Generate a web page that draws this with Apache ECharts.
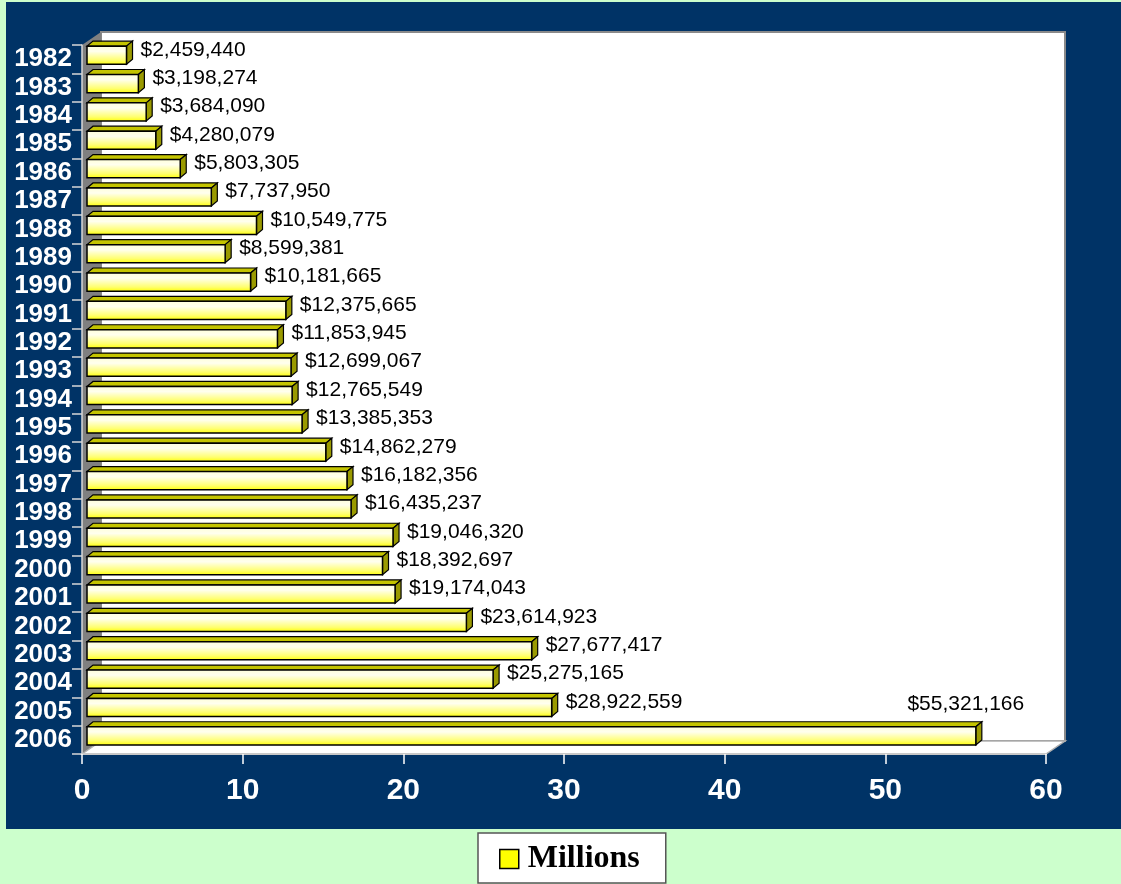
<!DOCTYPE html>
<html>
<head>
<meta charset="utf-8">
<script src="https://cdn.jsdelivr.net/npm/echarts@6/dist/echarts.min.js"></script>
<style>
html,body{margin:0;padding:0;background:#ccffcc;}
#chart{width:1121px;height:884px;}
</style>
</head>
<body>
<div id="chart"></div>
<script>
// ---- data ----
const years = ['1982','1983','1984','1985','1986','1987','1988','1989','1990','1991','1992','1993','1994','1995','1996','1997','1998','1999','2000','2001','2002','2003','2004','2005','2006'];
const amounts = [2459440,3198274,3684090,4280079,5803305,7737950,10549775,8599381,10181665,12375665,11853945,12699067,12765549,13385353,14862279,16182356,16435237,19046320,18392697,19174043,23614923,27677417,25275165,28922559,55321166];
const seriesName = 'Millions';
const xTicks = [0, 60, 10]; // min, max, interval

// ---- layout ----
const W = 1121, H = 884;
const GL = 82, GT = 45, GR = 1046, GB = 754;
const DX = 19, DY = -13; // depth of the 3D box

const fmt = n => '$' + n.toLocaleString('en-US');
const measure = (() => {
  const c = document.createElement('canvas').getContext('2d');
  c.font = '21px "Liberation Sans", Arial, sans-serif';
  return t => c.measureText(t).width;
})();

const chart = echarts.init(document.getElementById('chart'), null, {renderer: 'canvas'});

const option = {
  backgroundColor: '#ccffcc',
  animation: false,
  graphic: [
    {type: 'rect', z: -30, shape: {x: 6, y: 2, width: W - 6, height: 829 - 2}, style: {fill: '#003366'}},
    // back wall
    {type: 'rect', z: -20, shape: {x: GL + DX, y: GT + DY, width: GR - GL, height: GB - GT}, style: {fill: '#ffffff', stroke: '#8a8a8a', lineWidth: 2}},
    // left wall
    {type: 'polygon', z: -19, shape: {points: [[GL, GT], [GL + DX, GT + DY], [GL + DX, GB + DY], [GL, GB]]}, style: {fill: '#808080'}},
    // floor
    {type: 'polygon', z: -19, shape: {points: [[GL, GB], [GL + DX, GB + DY], [GR + DX, GB + DY], [GR, GB]]}, style: {fill: '#ffffff', stroke: '#b0b0b0', lineWidth: 1.5}}
  ],
  legend: {
    data: [seriesName],
    left: 478, top: 833,
    backgroundColor: '#ffffff',
    borderColor: '#555555',
    borderWidth: 1.5,
    padding: [7, 26, 5, 21],
    itemWidth: 19, itemHeight: 19,
    icon: 'rect',
    itemStyle: {color: '#ffff00', borderColor: '#000', borderWidth: 1.5},
    textStyle: {fontFamily: '"Liberation Serif", "Times New Roman", serif', fontWeight: 'bold', fontSize: 32, color: '#000', lineHeight: 34, padding: [4, 0, 0, 4]}
  },
  grid: {left: GL, top: GT, right: W - GR, bottom: H - GB, containLabel: false},
  xAxis: {
    type: 'value', min: xTicks[0], max: xTicks[1], interval: xTicks[2],
    splitLine: {show: false},
    axisLine: {show: true, lineStyle: {color: '#c8c8c8', width: 2}},
    axisTick: {show: true, length: 10, lineStyle: {color: '#ffffff', width: 1.5}},
    axisLabel: {color: '#ffffff', fontWeight: 'bold', fontSize: 30, fontFamily: '"Liberation Sans", Arial, sans-serif', margin: 22}
  },
  yAxis: {
    type: 'category', data: years, inverse: true,
    axisLine: {show: true, lineStyle: {color: '#d8d8d8', width: 1.5}},
    axisTick: {show: true, length: 10, interval: 0, lineStyle: {color: '#d8d8d8', width: 1.5}},
    axisLabel: {color: '#ffffff', fontWeight: 'bold', fontSize: 26, fontFamily: '"Liberation Sans", Arial, sans-serif', margin: 10, interval: 0, hideOverlap: false}
  },
  series: [{
    name: seriesName,
    type: 'custom',
    itemStyle: {color: '#ffff00', borderColor: '#000'},
    encode: {x: 0, y: 1},
    data: amounts.map((a, i) => [a / 1e6, i, a]),
    renderItem: function (params, api) {
      const v = api.value(0), c = api.value(1), raw = api.value(2);
      const p0 = api.coord([0, c]);
      const p1 = api.coord([v, c]);
      const band = api.size([0, 1])[1];
      const h = band * 0.64;
      const cy = p0[1] - band * 0.14;
      const bx0 = p0[0] + 5, bx1 = p1[0] + 5;
      const y0 = cy - h / 2, y1 = cy + h / 2;
      const dx = 6, dy = -5;
      const txt = fmt(raw);
      const right = params.coordSys.x + params.coordSys.width;
      let label;
      const lx = bx1 + dx + 8;
      if (lx + measure(txt) > right) {
        label = {type: 'text', style: {text: txt, x: bx1 - 10, y: y0 + dy - 18, fill: '#000', fontSize: 21, fontFamily: '"Liberation Sans", Arial, sans-serif', align: 'center', verticalAlign: 'middle'}};
      } else {
        label = {type: 'text', style: {text: txt, x: lx, y: cy - 5.5, fill: '#000', fontSize: 21, fontFamily: '"Liberation Sans", Arial, sans-serif', align: 'left', verticalAlign: 'middle'}};
      }
      return {
        type: 'group',
        children: [
          {type: 'polygon', shape: {points: [[bx0, y0], [bx0 + dx, y0 + dy], [bx1 + dx, y0 + dy], [bx1, y0]]}, style: {fill: '#c4c400', stroke: '#000', lineWidth: 1.2}},
          {type: 'polygon', shape: {points: [[bx1, y0], [bx1 + dx, y0 + dy], [bx1 + dx, y1 + dy], [bx1, y1]]}, style: {fill: '#9a9a00', stroke: '#000', lineWidth: 1.2}},
          {type: 'rect', shape: {x: bx0, y: y0, width: bx1 - bx0, height: h}, style: {
            fill: new echarts.graphic.LinearGradient(0, 0, 0, 1, [
              {offset: 0, color: '#ffffd8'}, {offset: 0.3, color: '#ffffee'}, {offset: 0.75, color: '#ffff70'}, {offset: 1, color: '#ffff00'}
            ]), stroke: '#000', lineWidth: 1.5}},
          label
        ]
      };
    }
  }]
};
chart.setOption(option);
</script>
</body>
</html>
